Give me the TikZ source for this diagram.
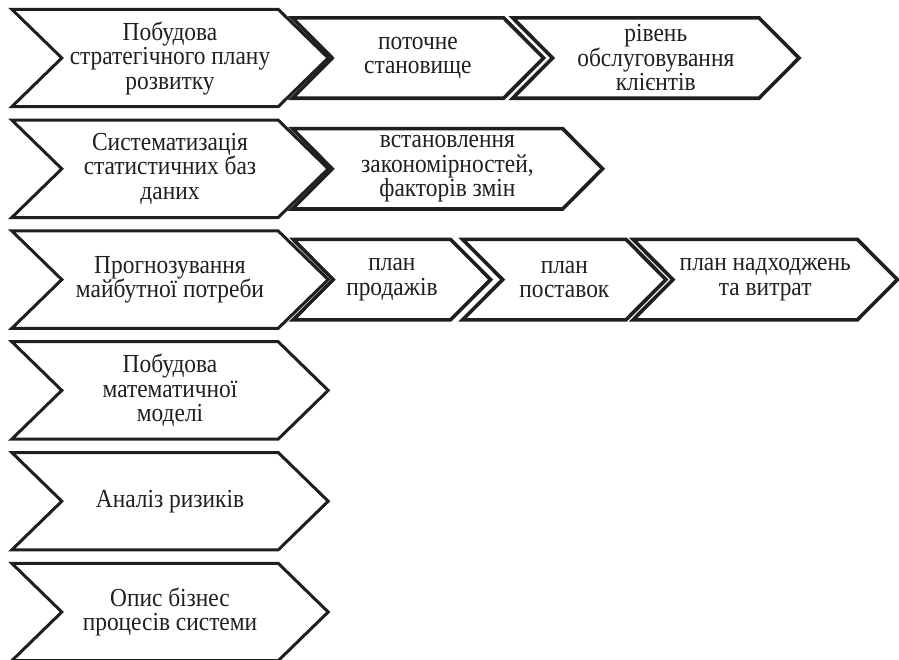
\documentclass[tikz,border=0pt]{standalone}
\usepackage{fontspec}
\setmainfont{Liberation Serif}[FakeStretch=0.9]
\usetikzlibrary{positioning}

\newcommand{\stagetext}{\fontsize{26pt}{24.5pt}\selectfont}
% chevron round a text node: #1 node, #2 depth of point and notch
\newcommand{\chevron}[3][]{%
  \draw[chev,#1] ([xshift=-#3]#2.north west) -- (#2.north east)
    -- ([xshift=#3]#2.east) -- (#2.south east)
    -- ([xshift=-#3]#2.south west) -- (#2.west) -- cycle;}

\tikzset{
  stage/.style={minimum width=216pt, minimum height=97pt, inner sep=0pt,
    align=center, font=\stagetext, text=black!88},
  substage/.style={minimum height=80pt, inner sep=0pt,
    align=center, font=\stagetext, text=black!88},
  chev/.style={line width=3pt, line join=miter, draw=black!88},
}

\begin{document}
\begin{tikzpicture}
  \useasboundingbox (0,0) rectangle (899pt,-659pt);

  % main stages
  \node[stage] (plan) at (170pt,-58pt) {Побудова\\стратегічного плану\\розвитку};
  \node[stage, below=13.4pt of plan] (system) {Систематизація\\статистичних баз\\даних};
  \node[stage, below=13.4pt of system] (forecast) {Прогнозування\\майбутної потреби};
  \node[stage, below=13.4pt of forecast] (model) {Побудова\\математичної\\моделі};
  \node[stage, below=13.4pt of model] (risk) {Аналіз ризиків};
  \node[stage, below=13.4pt of risk] (process) {Опис бізнес\\процесів системи};

  % sub-stages
  \node[substage, minimum width=171pt, right=54pt of plan] (current) {поточне\\становище};
  \node[substage, minimum width=206pt, right=49pt of current] (service) {рівень\\обслуговування\\клієнтів};
  \node[substage, minimum width=230pt, right=54pt of system] (factors) {встановлення\\закономірностей,\\факторів змін};
  \node[substage, minimum width=117pt, right=55pt of forecast] (sales) {план\\продажів};
  \node[substage, minimum width=123pt, right=52pt of sales] (supply) {план\\поставок};
  \node[substage, minimum width=184pt, right=47pt of supply] (cash) {план надходжень\\та витрат};

  \foreach \n in {plan,system,forecast,model,risk,process}{\chevron{\n}{50pt}}
  \foreach \n in {current,service,factors,sales,supply,cash}{\chevron[line width=3.6pt]{\n}{40pt}}
\end{tikzpicture}
\end{document}
